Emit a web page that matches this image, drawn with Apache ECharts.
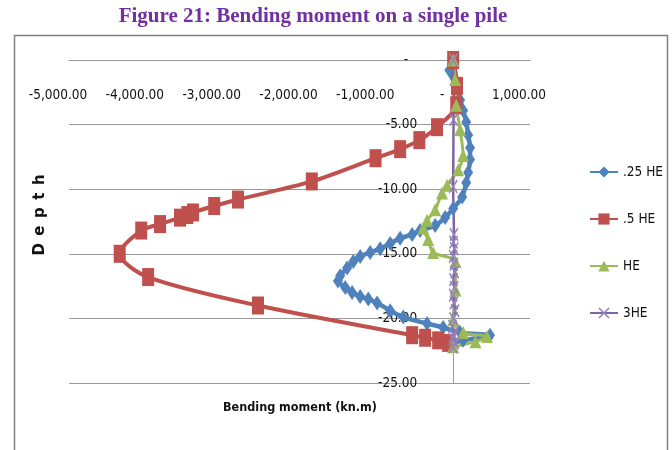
<!DOCTYPE html>
<html>
<head>
<meta charset="utf-8">
<script src="https://cdn.jsdelivr.net/npm/echarts@6/dist/echarts.min.js"></script>
<style>
html, body { margin: 0; padding: 0; background: #fff; }
#chart { width: 672px; height: 450px; }
</style>
</head>
<body>
<div id="chart"></div>
<script>
// values (moment kn.m, depth)
const seriesNames = ['.25 HE', '.5 HE', 'HE', '3HE'];
const xTicks = [-5000, -4000, -3000, -2000, -1000, 0, 1000];
const yTicks = [0, -5, -10, -15, -20, -25];

const quarterMoment = [0, -50, 25, 90, 130, 170, 195, 220, 220, 195, 170, 117, 0, -104, -234, -430, -534, -690, -820, -950, -1080, -1210, -1300, -1380, -1470, -1500, -1405, -1315, -1210, -1105, -990, -820, -650, -340, -130, 90, 480, 130, 0];
const quarterDepth = [0, -0.8, -1.9, -3.1, -3.9, -4.8, -5.8, -6.8, -7.7, -8.7, -9.5, -10.6, -11.5, -12.2, -12.8, -13.2, -13.5, -13.8, -14.2, -14.6, -14.9, -15.2, -15.6, -16.1, -16.7, -17.1, -17.6, -18.0, -18.3, -18.5, -18.8, -19.4, -19.9, -20.4, -20.7, -21.1, -21.3, -21.7, -21.9];

const halfMoment = [0, 50, 40, -210, -440, -690, -1010, -1840, -2800, -3110, -3385, -3460, -3555, -3815, -4060, -4340, -3970, -2540, -534, -365, -195, -65];
const halfDepth = [0, -2.0, -3.5, -5.2, -6.2, -6.9, -7.6, -9.4, -10.8, -11.3, -11.8, -12.0, -12.2, -12.7, -13.2, -15.0, -16.8, -19.0, -21.3, -21.5, -21.7, -21.9];

const heMoment = [0, 25, 40, 90, 130, 65, -80, -145, -235, -340, -390, -325, -260, 30, 30, 0, 130, 440, 290, 0];
const heDepth = [0, -1.5, -3.5, -5.4, -7.4, -8.5, -9.7, -10.3, -11.6, -12.4, -13.0, -13.9, -14.9, -15.6, -17.8, -20.1, -21.1, -21.4, -21.8, -22.2];

const he3Moment = [0, 5, 0, 10, 5, 15, 0, 10, 20, 5, 15, 0, 10, 25, 5, -10, 30, 10, -5, 20, 0];
const he3Depth = [0, -4.6, -9.8, -13.5, -14.1, -14.6, -15.2, -15.8, -16.4, -17.0, -17.6, -18.2, -18.8, -19.4, -20.0, -20.6, -21.0, -21.3, -21.6, -21.9, -22.2];

function zip(xs, ys) { return xs.map((x, i) => [x, ys[i]]); }

const narrow = "'DejaVu Sans Condensed', 'Liberation Sans Narrow', sans-serif";
const xMark = 'path://M0,1 L1,0 L5,4 L9,0 L10,1 L6,5 L10,9 L9,10 L5,6 L1,10 L0,9 L4,5 Z';

const gridLeft = 69, gridRight = 142;
const plotWidth = 672 - gridLeft - gridRight;
// the value axis sits on moment = 0 (Excel crosses it there)
const yAxisOffset = -plotWidth * (0 - xTicks[0]) / (xTicks[xTicks.length - 1] - xTicks[0]);

let mychart = echarts.init(document.getElementById('chart'));
let option = {
    animation: false,
    backgroundColor: '#fff',
    graphic: [
        {
            type: 'rect',
            shape: { x: 14.5, y: 35.5, width: 653, height: 430 },
            style: { fill: 'none', stroke: '#7f7f7f', lineWidth: 1.5 },
            silent: true
        },
        {
            type: 'text', x: 313, y: 17,
            style: {
                text: 'Figure 21: Bending moment on a single pile',
                font: "bold 21px 'Liberation Serif', 'Times New Roman', serif",
                fill: '#7030A0', align: 'center', verticalAlign: 'middle'
            }
        },
        {
            type: 'text', x: 300, y: 408,
            style: {
                text: 'Bending moment (kn.m)',
                font: "bold 12.5px " + narrow,
                fill: '#111', align: 'center', verticalAlign: 'middle'
            }
        },
        {
            type: 'text', x: 40, y: 215, rotation: Math.PI / 2,
            style: {
                text: 'D\u2002e\u2002p\u2002t\u2002h',
                font: "bold 15px 'DejaVu Sans', sans-serif",
                fill: '#111', align: 'center', verticalAlign: 'middle'
            }
        }
    ],
    grid: { left: gridLeft, right: gridRight, top: 60, bottom: 67, containLabel: false, outerBoundsMode: 'none' },
    legend: {
        orient: 'vertical',
        left: 584,
        top: 160,
        itemWidth: 28,
        itemHeight: 14,
        itemGap: 33,
        data: seriesNames,
        textStyle: { fontFamily: narrow, fontSize: 13.5, color: '#111' }
    },
    xAxis: {
        type: 'value',
        min: xTicks[0],
        max: xTicks[xTicks.length - 1],
        interval: 1000,
        position: 'top',
        axisLine: { onZero: false, lineStyle: { color: '#999', width: 1 } },
        axisTick: { show: false },
        splitLine: { show: false },
        axisLabel: {
            inside: true,
            margin: 28,
            padding: [0, 22, 0, 0],
            fontFamily: narrow,
            fontSize: 13.5,
            color: '#111',
            formatter: function (v) {
                if (v === 0) return '-';
                return v.toLocaleString('en-US', { minimumFractionDigits: 2, maximumFractionDigits: 2 });
            }
        }
    },
    yAxis: {
        type: 'value',
        min: yTicks[yTicks.length - 1],
        max: yTicks[0],
        interval: 5,
        position: 'left',
        offset: yAxisOffset,
        axisLine: { show: true, onZero: false, lineStyle: { color: '#999', width: 1 } },
        axisTick: { show: false },
        splitLine: { show: true, lineStyle: { color: '#999', width: 1 } },
        axisLabel: {
            margin: 36,
            fontFamily: narrow,
            fontSize: 13.5,
            color: '#111',
            formatter: function (v) {
                if (v === 0) return '{z|-}';
                return v.toFixed(2);
            },
            rich: { z: { padding: [0, 9, 0, 0], fontFamily: narrow, fontSize: 13.5, color: '#111' } }
        }
    },
    series: [
        {
            name: seriesNames[0], type: 'line', smooth: 0.3,
            symbol: 'diamond', symbolSize: [10, 15],
            lineStyle: { color: '#4F81BD', width: 4.5 },
            itemStyle: { color: '#4F81BD' },
            data: zip(quarterMoment, quarterDepth)
        },
        {
            name: seriesNames[1], type: 'line', smooth: 0.3,
            symbol: 'rect', symbolSize: [12, 18],
            lineStyle: { color: '#C0504D', width: 4 },
            itemStyle: { color: '#C0504D' },
            data: zip(halfMoment, halfDepth)
        },
        {
            name: seriesNames[2], type: 'line', smooth: 0.3,
            symbol: 'triangle', symbolSize: [12, 13],
            lineStyle: { color: '#9BBB59', width: 3 },
            itemStyle: { color: '#9BBB59' },
            data: zip(heMoment, heDepth)
        },
        {
            name: seriesNames[3], type: 'line', smooth: 0.3,
            symbol: xMark, symbolSize: [9, 14], symbolKeepAspect: false,
            lineStyle: { color: '#8064A2', width: 2.5 },
            itemStyle: { color: '#9580B8' },
            data: zip(he3Moment, he3Depth)
        }
    ]
};
mychart.setOption(option);
</script>
</body>
</html>
